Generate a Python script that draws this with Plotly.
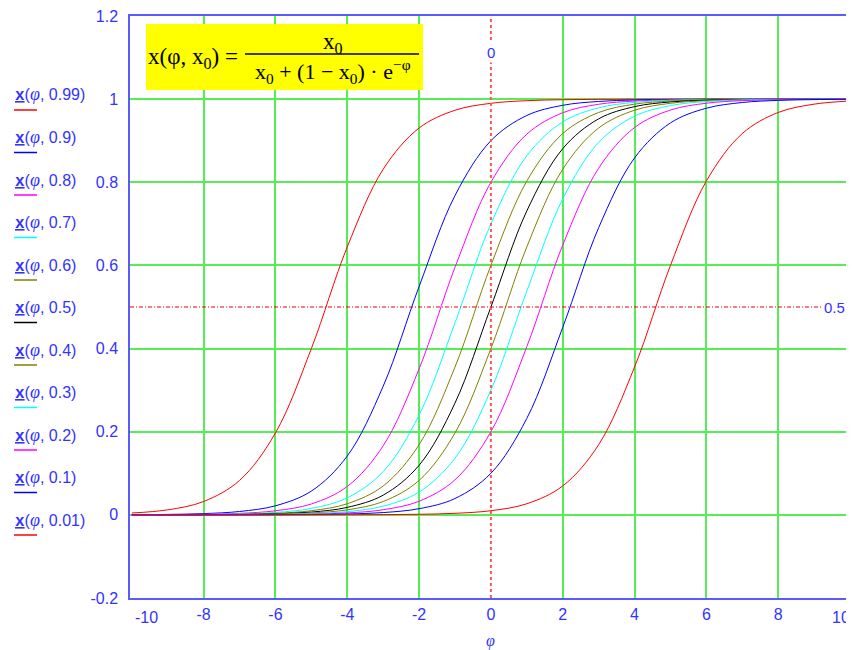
import plotly.graph_objects as go

# phi sample points (integer steps)
phi = [-10, -9, -8, -7, -6, -5, -4, -3, -2, -1, 0, 1, 2, 3, 4, 5, 6, 7, 8, 9, 10]

# curve values, one list per x0
x_099 = [0.0045, 0.0121, 0.0321, 0.0828, 0.1970, 0.4001, 0.6445, 0.8313, 0.9305, 0.9733, 0.99,
         0.9963, 0.9986, 0.9995, 0.9998, 0.9999, 1.0, 1.0, 1.0, 1.0, 1.0]
x_09 = [0.0004, 0.0011, 0.0030, 0.0081, 0.0218, 0.0572, 0.1415, 0.3094, 0.5491, 0.7680, 0.9,
        0.9607, 0.9852, 0.9945, 0.9980, 0.9993, 0.9997, 0.9999, 1.0, 1.0, 1.0]
x_08 = [0.0002, 0.0005, 0.0013, 0.0036, 0.0098, 0.0262, 0.0683, 0.1661, 0.3512, 0.5954, 0.8,
        0.9158, 0.9673, 0.9877, 0.9954, 0.9983, 0.9994, 0.9998, 0.9999, 1.0, 1.0]
x_07 = [0.0001, 0.0003, 0.0008, 0.0021, 0.0058, 0.0155, 0.0410, 0.1041, 0.2400, 0.4619, 0.7,
        0.8638, 0.9452, 0.9791, 0.9922, 0.9971, 0.9989, 0.9996, 0.9999, 0.9999, 1.0]
x_06 = [0.0001, 0.0002, 0.0005, 0.0014, 0.0037, 0.0100, 0.0267, 0.0695, 0.1687, 0.3556, 0.6,
        0.8030, 0.9172, 0.9679, 0.9879, 0.9955, 0.9984, 0.9994, 0.9998, 0.9999, 1.0]
x_05 = [0.0, 0.0001, 0.0003, 0.0009, 0.0025, 0.0067, 0.0180, 0.0474, 0.1192, 0.2689, 0.5,
        0.7311, 0.8808, 0.9526, 0.9820, 0.9933, 0.9975, 0.9991, 0.9997, 0.9999, 1.0]
x_04 = [0.0, 0.0001, 0.0002, 0.0006, 0.0016, 0.0045, 0.0121, 0.0321, 0.0828, 0.1970, 0.4,
        0.6444, 0.8313, 0.9305, 0.9733, 0.9900, 0.9963, 0.9986, 0.9995, 0.9998, 0.9999]
x_03 = [0.0, 0.0001, 0.0001, 0.0004, 0.0011, 0.0029, 0.0078, 0.0209, 0.0548, 0.1362, 0.3,
        0.5381, 0.7600, 0.8959, 0.9590, 0.9845, 0.9942, 0.9979, 0.9992, 0.9997, 0.9999]
x_02 = [0.0, 0.0, 0.0001, 0.0002, 0.0006, 0.0017, 0.0046, 0.0123, 0.0327, 0.0842, 0.2,
        0.4046, 0.6488, 0.8339, 0.9317, 0.9738, 0.9902, 0.9964, 0.9987, 0.9995, 0.9998]
x_01 = [0.0, 0.0, 0.0, 0.0001, 0.0003, 0.0007, 0.0020, 0.0055, 0.0148, 0.0393, 0.1,
        0.2320, 0.4509, 0.6906, 0.8585, 0.9428, 0.9782, 0.9919, 0.9970, 0.9989, 0.9996]
x_001 = [0.0, 0.0, 0.0, 0.0, 0.0, 0.0001, 0.0002, 0.0005, 0.0014, 0.0037, 0.01,
         0.0267, 0.0695, 0.1687, 0.3555, 0.5999, 0.8030, 0.9172, 0.9679, 0.9879, 0.9955]

labels = ["0.99", "0.9", "0.8", "0.7", "0.6", "0.5", "0.4", "0.3", "0.2", "0.1", "0.01"]
series = [x_099, x_09, x_08, x_07, x_06, x_05, x_04, x_03, x_02, x_01, x_001]
colors = ["#FF0000", "#0000FF", "#FF00FF", "#00FFFF", "#808000", "#000000",
          "#808000", "#00FFFF", "#FF00FF", "#0000FF", "#FF0000"]

x_ticks = [-8, -6, -4, -2, 0, 2, 4, 6, 8]
x_ticktext = ["-8", "-6", "-4", "-2", "0", "2", "4", "6", "8"]
x_edge_ticks = [-10, 10]
x_edge_text = ["-10", "10"]
x_gridvals = [-8, -6, -4, -2, 2, 4, 6, 8]
y_ticks = [-0.2, 0, 0.2, 0.4, 0.6, 0.8, 1, 1.2]
y_ticktext = ["-0.2", "0", "0.2", "0.4", "0.6", "0.8", "1", "1.2"]

# page offset (browser body margin) compensation
OFF = 8
W, H = 854 - OFF, 650 - OFF
L, R, T, B = 130, 850, 16, 598          # plot area in page pixels
BLUE = "#3333FF"
GRID = "#55EE55"
TICKFONT = dict(family="Liberation Sans", size=16, color=BLUE)

def px(xp):
    return (xp - L) / (R - L)

def py(yp):
    return (B - yp) / (B - T)

fig = go.Figure()
for lab, vals, col in zip(labels, series, colors):
    fig.add_trace(go.Scatter(x=phi, y=vals, mode="lines", name=lab,
                             line=dict(color=col, width=1, shape="spline", smoothing=1.0),
                             showlegend=False, hoverinfo="skip"))

shapes = []
annotations = []

# marker lines
shapes.append(dict(type="line", xref="x", yref="paper", x0=0, x1=0, y0=0, y1=1,
                   line=dict(color="#FF5555", width=2, dash="3px,3px"), layer="above"))
shapes.append(dict(type="line", xref="paper", yref="y", x0=0, x1=1, y0=0.5, y1=0.5,
                   line=dict(color="#EE0000", width=1, dash="4px,2px,1px,2px"), layer="above"))
annotations.append(dict(x=0, y=py(52), xref="x", yref="paper", text="0", showarrow=False,
                        font=dict(family="Liberation Sans", size=15, color=BLUE),
                        xanchor="center", yanchor="middle", bgcolor="white"))
annotations.append(dict(x=px(847), y=0.5, xref="paper", yref="y", text="0.5", showarrow=False,
                        font=dict(family="Liberation Sans", size=15, color=BLUE),
                        xanchor="right", yanchor="middle", bgcolor="white"))

# edge x tick labels, pulled inside like the original
for v, t, anc, sh in zip(x_edge_ticks, x_edge_text, ["left", "right"], [1, 2]):
    annotations.append(dict(x=v, y=py(617), xref="x", yref="paper", text=t,
                            showarrow=False, xanchor=anc, yanchor="middle", xshift=sh,
                            font=TICKFONT))

# legend (Mathcad style: text with short line below)
for i, (lab, col) in enumerate(zip(labels, colors)):
    ty = 95 + 42.5 * i
    txt = ("<span style=\"font-family:'Liberation Mono';font-weight:bold;text-decoration:underline\">x</span>"
           "(<span style=\"font-family:'Liberation Serif';font-size:18px\"><i>φ</i></span>, " + lab + ")")
    annotations.append(dict(x=px(13), y=py(ty), xref="paper", yref="paper", text=txt,
                            showarrow=False, xanchor="left", yanchor="middle",
                            font=dict(family="Liberation Sans", size=16, color=BLUE)))
    shapes.append(dict(type="line", xref="paper", yref="paper", x0=px(14), x1=px(37),
                       y0=py(ty + 15), y1=py(ty + 15), line=dict(color=col, width=1.5)))

# formula box
shapes.append(dict(type="rect", xref="paper", yref="paper", x0=px(146), x1=px(423),
                   y0=py(90), y1=py(24), fillcolor="#FFFF00", line=dict(width=0), layer="above"))
shapes.append(dict(type="line", xref="paper", yref="paper", x0=px(245), x1=px(419),
                   y0=py(54), y1=py(54), line=dict(color="black", width=1.5), layer="above"))
FF = dict(family="Liberation Serif", size=23, color="black")
annotations.append(dict(x=px(146), y=py(58), xref="paper", yref="paper",
                        text="x(φ, x<sub>0</sub>) =", showarrow=False,
                        xanchor="left", yanchor="middle", font=FF))
annotations.append(dict(x=px(333), y=py(43), xref="paper", yref="paper",
                        text="x<sub>0</sub>", showarrow=False,
                        xanchor="center", yanchor="middle", font=FF))
annotations.append(dict(x=px(333), y=py(72), xref="paper", yref="paper",
                        text="x<sub>0</sub> + (1 − x<sub>0</sub>) · e<sup>−φ</sup>", showarrow=False,
                        xanchor="center", yanchor="middle", font=dict(family="Liberation Serif", size=22, color="black")))

# axis title
annotations.append(dict(x=0, y=py(641), xref="x", yref="paper", text="<i>φ</i>",
                        showarrow=False, xanchor="center", yanchor="middle",
                        font=dict(family="Liberation Serif", size=16, color=BLUE)))

fig.update_layout(
    width=W, height=H,
    margin=dict(l=L - OFF, r=W - (R - OFF), t=T - OFF, b=H - (B - OFF), pad=0, autoexpand=False),
    paper_bgcolor="white", plot_bgcolor="white",
    shapes=shapes, annotations=annotations,
    xaxis=dict(range=[-10.05, 10], tickvals=x_ticks, ticktext=x_ticktext,
               showgrid=False, zeroline=False,
               minor=dict(tickvals=x_gridvals, showgrid=True, gridcolor=GRID, gridwidth=1.5, ticks=""),
               showline=True, linecolor="#5A5AFF", linewidth=1.5, mirror=True,
               ticks="", ticklabelstandoff=1, ticklabeloverflow="allow",
               tickfont=TICKFONT),
    yaxis=dict(range=[-0.2, 1.2], tickvals=y_ticks, ticktext=y_ticktext,
               showgrid=True, gridcolor=GRID, gridwidth=1.5, zeroline=False,
               showline=True, linecolor="#5A5AFF", linewidth=1.5, mirror=True,
               ticks="", ticklabelstandoff=7, ticklabeloverflow="allow",
               tickfont=TICKFONT),
)

fig.write_html("out.html")
